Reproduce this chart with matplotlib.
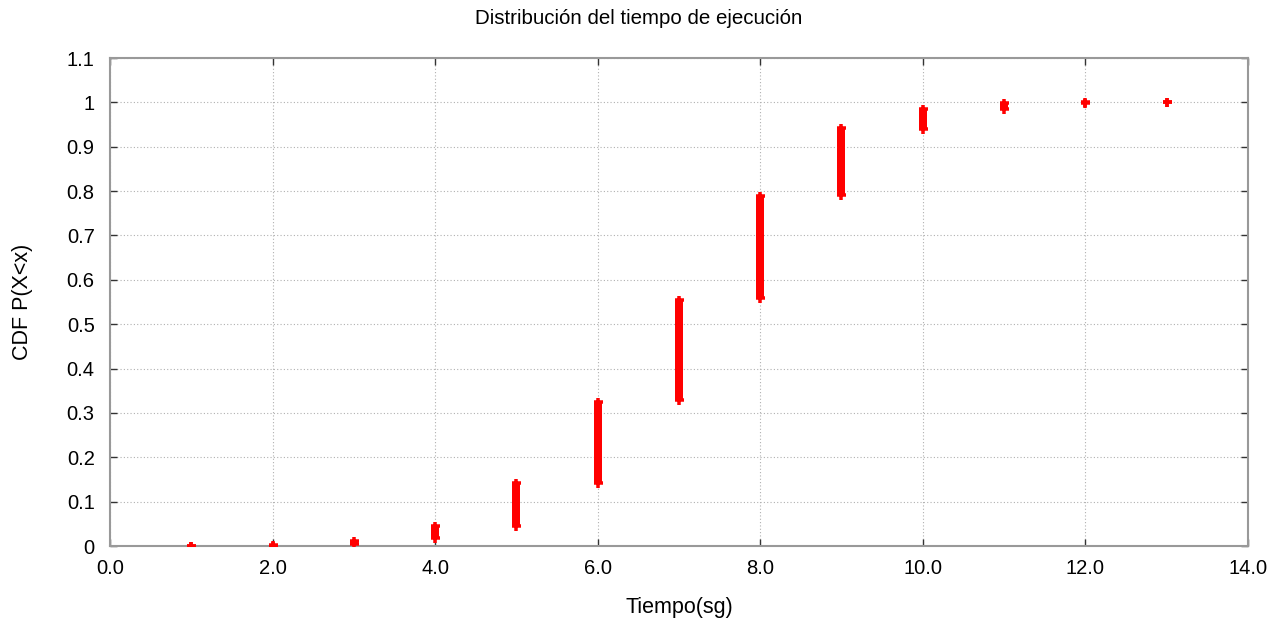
import matplotlib
matplotlib.use("Agg")
import matplotlib.pyplot as plt
import numpy as np

plt.rcParams['font.family'] = ['Liberation Sans', 'DejaVu Sans']

x_vals = [1, 2, 3, 4, 5, 6, 7, 8, 9, 10, 11, 12, 13]
cdf_low = [0.0, 0.0, 0.004, 0.018, 0.044, 0.141, 0.328, 0.558, 0.792, 0.940, 0.985, 0.998, 1.0]
cdf_high = [0.0, 0.002, 0.012, 0.044, 0.141, 0.325, 0.555, 0.789, 0.942, 0.985, 0.998, 1.0, 1.0]
x_ticks = [0, 2, 4, 6, 8, 10, 12, 14]
y_ticks = [0, 0.1, 0.2, 0.3, 0.4, 0.5, 0.6, 0.7, 0.8, 0.9, 1.0, 1.1]
y_tick_labels = ["0", "0.1", "0.2", "0.3", "0.4", "0.5", "0.6", "0.7", "0.8", "0.9", "1", "1.1"]

fig = plt.figure(figsize=(12.77, 6.25), dpi=100)
ax = fig.add_axes([0.0861, 0.1264, 0.8911, 0.7808])

px = 0.72
for x, lo, hi in zip(x_vals, cdf_low, cdf_high):
    ax.plot([x, x], [lo, hi], color='red', lw=8 * px, solid_capstyle='butt', zorder=3)
    ax.plot([x, x], [lo, hi], color='red', marker='+', ms=9 * px, mew=3.5 * px, ls='none', zorder=3)

ax.set_xlim(0, 14)
ax.set_ylim(0, 1.1)
ax.set_xticks(x_ticks)
ax.set_xticklabels([f"{t:.1f}" for t in x_ticks])
ax.set_yticks(y_ticks)
ax.set_yticklabels(y_tick_labels)
ax.grid(True, color='#b0b0b0', linestyle=(0, (1, 2)), linewidth=0.8)
for s in ax.spines.values():
    s.set_color('#999999')
    s.set_linewidth(1.5)
ax.tick_params(direction='in', top=True, right=True, length=5, width=1, color='#333333', labelsize=14.5)
ax.tick_params(axis='y', pad=11)
ax.tick_params(axis='x', pad=9)
ax.set_xlabel("Tiempo(sg)", fontsize=15.5, labelpad=14)
ax.set_ylabel("CDF P(X<x)", fontsize=15.5, labelpad=24)
fig.suptitle("Distribución del tiempo de ejecución", fontsize=14.8, y=0.985)

fig.savefig("out.png", dpi=100)
